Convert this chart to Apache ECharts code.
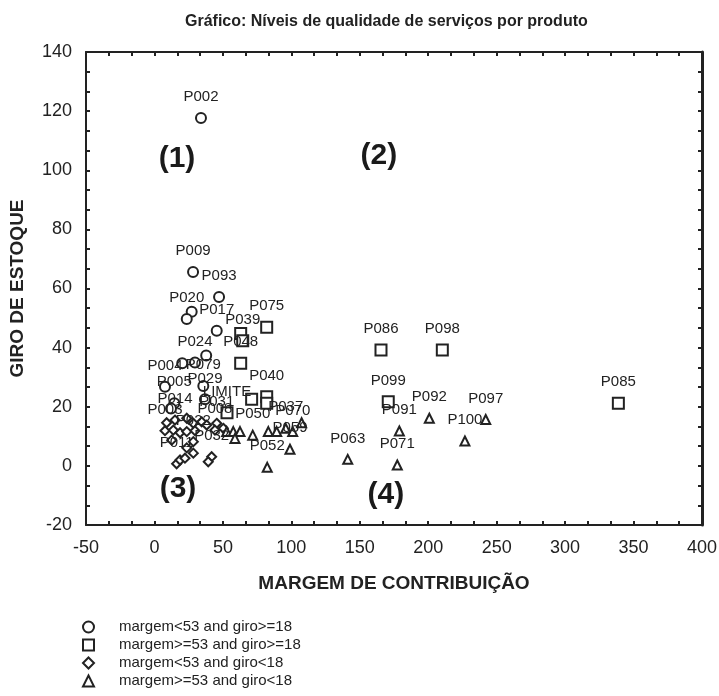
<!DOCTYPE html>
<html>
<head>
<meta charset="utf-8">
<script src="https://cdn.jsdelivr.net/npm/echarts@6/dist/echarts.min.js"></script>
<style>
  html, body { margin: 0; padding: 0; background: #fff; }
  #chart { width: 719px; height: 696px; }
</style>
</head>
<body>
<div id="chart"></div>
<script>
// margem<53 and giro>=18
const circleNames = ['P002', 'P009', 'P093', '', 'P020', 'P017', '', '', 'P024', 'P004', 'P079', 'P005', 'P029', '']
const circleX = [34, 28.2, 47.2, 27.2, 23.6, 45.5, 37.8, 20.3, 29.6, 7.7, 35.7, 14.5, 36.9, 12.1]
const circleY = [117.7, 65.6, 57.1, 52.1, 49.7, 45.7, 37.3, 34.7, 35, 26.8, 27, 21.2, 22.5, 19.4]

// margem>=53 and giro>=18
const squareNames = ['', 'P039', 'P075', 'P048', 'P040', '', '', 'LIMITE', 'P086', 'P098', 'P099', 'P085']
const squareX = [63, 64.5, 82, 63, 82, 71, 82, 53, 165.5, 210.3, 170.8, 338.9]
const squareY = [44.8, 42.3, 46.9, 34.7, 23.4, 22.5, 21.2, 18, 39.2, 39.2, 21.7, 21.2]

// margem<53 and giro<18
const diamondNames = ['P014', 'P003', 'P031', 'P008', 'P022', 'P011', 'P032',
  '', '', '', '', '', '', '', '', '', '', '', '', '', '', '', '']
const diamondX = [15, 7.7, 45.5, 44.2, 28.4, 16.2, 41.8,
  8.9, 13.8, 23.6, 28.4, 34.5, 18.7, 23.6, 29.6, 12.6, 23.6, 28.4, 18.7, 22.3, 39.3, 50.3, 38.2]
const diamondY = [15.5, 11.9, 14.4, 12.1, 8.2, 0.7, 3.1,
  14.6, 12.1, 16.1, 14.4, 14.9, 11.2, 11.6, 11.9, 8.7, 6.1, 4.3, 2, 2.6, 1.4, 12.7, 13.8]

// margem>=53 and giro<18
const triangleNames = ['P092', 'P097', 'P100', 'P091', 'P063', 'P071', 'P050',
  '', '', '', '', '', '', 'P037', 'P070', '', 'P059', 'P052']
const triangleX = [200.8, 242, 226.8, 178.9, 141.2, 177.4, 71.8,
  52.8, 57.6, 62.5, 58.8, 83.2, 89.3, 95.9, 101, 107.5, 99, 82.4]
const triangleY = [16.1, 15.7, 8.4, 11.8, 2.2, 0.3, 10.4,
  11.6, 11.6, 11.6, 9.3, 11.6, 11.6, 12.7, 11.6, 14.6, 5.6, -0.5]

// quadrant markers
const quadNames = ['(1)', '(2)', '(3)', '(4)']
const quadX = [16.5, 164, 17.2, 169]
const quadY = [104, 105, -7.8, -9.6]

const seriesNames = [
  'margem<53 and giro>=18',
  'margem>=53 and giro>=18',
  'margem<53 and giro<18',
  'margem>=53 and giro<18',
]

const INK = '#222'
const FONT = 'Liberation Sans, Arial, sans-serif'

function toPoints(names, xs, ys) {
  return xs.map((x, i) => ({ name: names[i], value: [x, ys[i]] }))
}

function pointSeries(name, symbol, size, names, xs, ys) {
  return {
    name: name,
    type: 'scatter',
    symbol: symbol,
    symbolSize: size,
    itemStyle: { color: '#fff', borderColor: INK, borderWidth: 2, opacity: 1 },
    label: {
      show: true,
      position: 'inside',
      offset: [0, -21],
      formatter: (p) => p.name,
      color: INK,
      fontSize: 15,
      fontFamily: FONT,
    },
    emphasis: { disabled: true },
    data: toPoints(names, xs, ys),
  }
}

const axisLineStyle = { color: INK, width: 2 }
const tickCfg = { inside: true, length: 4, lineStyle: { color: INK, width: 2 } }
const minorCfg = { show: true, splitNumber: 3, length: 4, lineStyle: { color: INK, width: 2 } }

const chart = echarts.init(document.getElementById('chart'))
chart.setOption({
  backgroundColor: '#fff',
  animation: false,
  textStyle: { fontFamily: FONT },
  title: {
    text: 'Gráfico: Níveis de qualidade de serviços por produto',
    left: 180,
    top: 9,
    textStyle: { fontSize: 16, fontWeight: 'bold', color: INK, fontFamily: FONT },
  },
  grid: { left: 86, right: 17, top: 52, bottom: 171, outerBoundsMode: 'none' },
  legend: {
    data: seriesNames,
    orient: 'vertical',
    left: 82,
    top: 618,
    padding: 0,
    itemWidth: 11,
    itemHeight: 11,
    itemGap: 0,
    textStyle: { fontSize: 15, color: INK, fontFamily: FONT, padding: [0, 0, 0, 20], lineHeight: 18 },
    selectedMode: false,
  },
  xAxis: [
    {
      type: 'value',
      min: -50,
      max: 400,
      interval: 50,
      name: 'MARGEM DE CONTRIBUIÇÃO',
      nameLocation: 'middle',
      nameGap: 49,
      nameTextStyle: { fontSize: 19, fontWeight: 'bold', color: INK, fontFamily: FONT },
      axisLine: { show: true, onZero: false, lineStyle: axisLineStyle },
      axisTick: tickCfg,
      minorTick: minorCfg,
      splitLine: { show: false },
      axisLabel: { fontSize: 18, color: INK, margin: 14, fontFamily: FONT },
    },
    {
      type: 'value',
      position: 'top',
      min: -50,
      max: 400,
      interval: 50,
      axisLine: { show: true, onZero: false, lineStyle: axisLineStyle },
      axisTick: tickCfg,
      minorTick: minorCfg,
      splitLine: { show: false },
      axisLabel: { show: false },
    },
  ],
  yAxis: [
    {
      type: 'value',
      min: -20,
      max: 140,
      interval: 20,
      name: 'GIRO DE ESTOQUE',
      nameLocation: 'middle',
      nameGap: 59,
      nameTextStyle: { fontSize: 19, fontWeight: 'bold', color: INK, fontFamily: FONT },
      axisLine: { show: true, onZero: false, lineStyle: axisLineStyle },
      axisTick: tickCfg,
      minorTick: minorCfg,
      splitLine: { show: false },
      axisLabel: { fontSize: 18, color: INK, margin: 14, fontFamily: FONT },
    },
    {
      type: 'value',
      position: 'right',
      min: -20,
      max: 140,
      interval: 20,
      axisLine: { show: true, onZero: false, lineStyle: { color: INK, width: 3 } },
      axisTick: tickCfg,
      minorTick: minorCfg,
      splitLine: { show: false },
      axisLabel: { show: false },
    },
  ],
  series: [
    pointSeries(seriesNames[0], 'circle', 10, circleNames, circleX, circleY),
    pointSeries(seriesNames[1], 'rect', 11, squareNames, squareX, squareY),
    pointSeries(seriesNames[2], 'diamond', 9, diamondNames, diamondX, diamondY),
    pointSeries(seriesNames[3], 'triangle', 9, triangleNames, triangleX, triangleY),
    {
      name: 'quadrantes',
      type: 'scatter',
      symbol: 'circle',
      symbolSize: 1,
      silent: true,
      z: 1,
      itemStyle: { color: '#fff', opacity: 1 },
      label: {
        show: true,
        position: 'inside',
        formatter: (p) => p.name,
        color: '#1a1a1a',
        opacity: 1,
        fontSize: 30,
        fontWeight: 'bold',
        fontFamily: FONT,
      },
      data: toPoints(quadNames, quadX, quadY),
    },
  ],
})
</script>
</body>
</html>
